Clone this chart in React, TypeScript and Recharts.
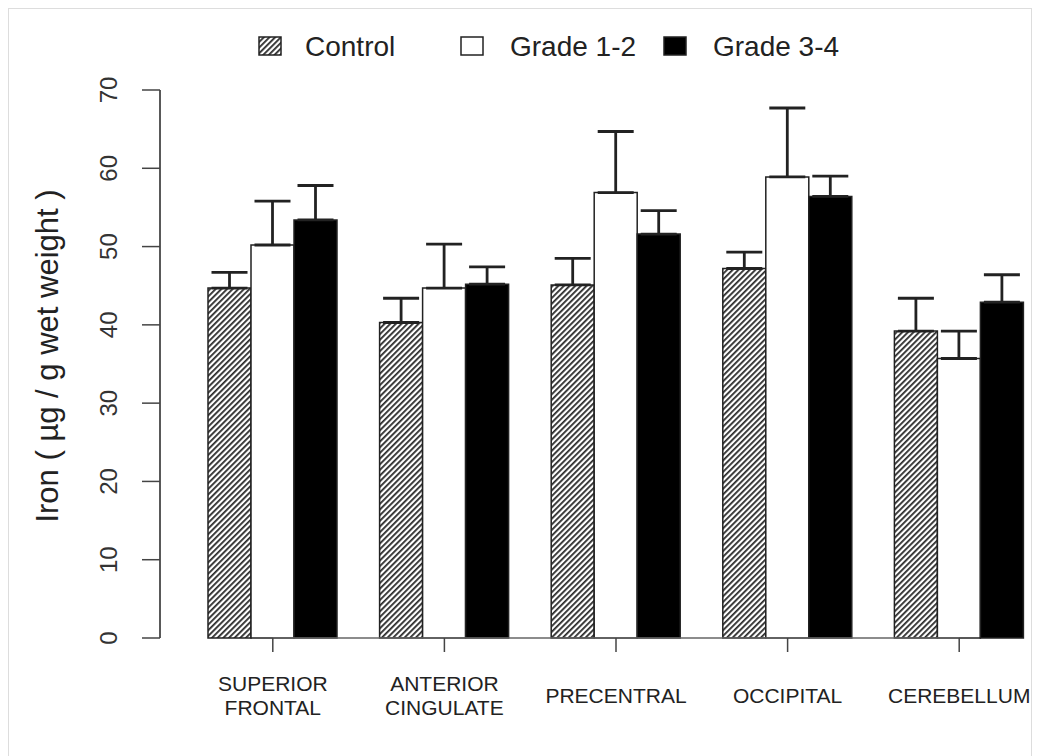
import React from 'react'
import {
    BarChart,
    Bar,
    XAxis,
    YAxis,
    ErrorBar,
    ReferenceLine,
    Legend,
} from 'recharts'

const REGIONS = ['SUPERIOR\nFRONTAL', 'ANTERIOR\nCINGULATE', 'PRECENTRAL', 'OCCIPITAL', 'CEREBELLUM']
const CONTROL = [44.7, 40.3, 45.1, 47.2, 39.2]
const CONTROL_SE = [2.0, 3.1, 3.4, 2.1, 4.2]
const GRADE_12 = [50.2, 44.7, 56.9, 58.9, 35.7]
const GRADE_12_SE = [5.6, 5.6, 7.8, 8.8, 3.5]
const GRADE_34 = [53.4, 45.2, 51.6, 56.4, 42.9]
const GRADE_34_SE = [4.4, 2.2, 3.0, 2.6, 3.5]
const Y_TICKS = [0, 10, 20, 30, 40, 50, 60, 70]
const LEGEND_LABELS = ['Control', 'Grade 1-2', 'Grade 3-4']

const data = REGIONS.map((name, i) => ({
    name,
    control: CONTROL[i],
    controlErr: [0, CONTROL_SE[i]],
    g12: GRADE_12[i],
    g12Err: [0, GRADE_12_SE[i]],
    g34: GRADE_34[i],
    g34Err: [0, GRADE_34_SE[i]],
}))

const FONT = '"Liberation Sans", Arial, sans-serif'
const FILLS = ['url(#hatch)', '#ffffff', '#000000']

function YTick({ x, y, payload }: any) {
    // baseline sits on the right, glyphs grow to the left
    const bx = x - 23
    return (
        <text
            x={bx}
            y={y}
            transform={`rotate(-90, ${bx}, ${y})`}
            textAnchor="middle"
            fontSize={24}
            fill="#333"
            fontFamily={FONT}
        >
            {payload.value}
        </text>
    )
}

function XTick({ x, y, payload }: any) {
    const lines = String(payload.value).split('\n')
    const start = lines.length === 1 ? 41 : 29
    return (
        <g>
            {lines.map((l, i) => (
                <text
                    key={i}
                    x={x}
                    y={y + start + i * 24}
                    textAnchor="middle"
                    dominantBaseline="central"
                    fontSize={21}
                    fill="#222"
                    fontFamily={FONT}
                >
                    {l}
                </text>
            ))}
        </g>
    )
}

function LegendBox() {
    const boxX = [259, 461, 664]
    const textX = [305, 510, 713]
    return (
        <svg width={1038} height={80}>
            {LEGEND_LABELS.map((label, i) => (
                <g key={label}>
                    <rect x={boxX[i]} y={37} width={22} height={18} fill={FILLS[i]} stroke="#222" strokeWidth={1.5} />
                    <text x={textX[i]} y={56} fontSize={28} fill="#222" fontFamily={FONT}>
                        {label}
                    </text>
                </g>
            ))}
        </svg>
    )
}

export default function App() {
    return (
        <div style={{ position: 'absolute', left: 0, top: 0, width: 1038, height: 756, overflow: 'hidden', background: '#fff' }}>
            <svg width={0} height={0} style={{ position: 'absolute' }}>
                <defs>
                    <pattern id="hatch" patternUnits="userSpaceOnUse" width={4} height={4} patternTransform="rotate(45)">
                        <rect width={4} height={4} fill="#fff" />
                        <line x1={0.9} y1={0} x2={0.9} y2={4} stroke="#2a2a2a" strokeWidth={1.8} />
                    </pattern>
                </defs>
            </svg>
            <div style={{ position: 'absolute', left: 8, top: 8, width: 1022, height: 770, border: '1px solid #ddd' }} />
            <div style={{ position: 'absolute', left: 0, top: 0 }}>
                <BarChart
                    width={1060}
                    height={756}
                    data={data}
                    margin={{ top: 90, right: 15, left: 0, bottom: 18 }}
                    barGap={0}
                    barSize={43}
                >
                    <Legend
                        layout="vertical"
                        align="center"
                        verticalAlign="middle"
                        wrapperStyle={{ left: 0, top: 0, width: 1038, height: 80 }}
                        content={() => <LegendBox />}
                    />
                    <YAxis
                        width={160}
                        domain={[0, 70]}
                        ticks={Y_TICKS}
                        interval={0}
                        tick={<YTick />}
                        tickSize={18}
                        tickLine={{ stroke: '#444', strokeWidth: 1.5 }}
                        axisLine={{ stroke: '#222', strokeWidth: 1.5 }}
                        label={{
                            content: ({ viewBox }: any) => {
                                const cx = 58
                                const cy = viewBox.y + viewBox.height / 2 - 8
                                return (
                                    <text
                                        x={cx}
                                        y={cy}
                                        transform={`rotate(-90, ${cx}, ${cy})`}
                                        textAnchor="middle"
                                        fontSize={31}
                                        fill="#222"
                                        fontFamily={FONT}
                                    >
                                        Iron ( µg / g wet weight )
                                    </text>
                                )
                            },
                        }}
                    />
                    <XAxis
                        dataKey="name"
                        height={100}
                        padding={{ left: 27, right: 0 }}
                        axisLine={false}
                        tickSize={14}
                        tickLine={{ stroke: '#444', strokeWidth: 1.5 }}
                        tick={<XTick />}
                        interval={0}
                    />
                    <ReferenceLine
                        segment={[{ x: REGIONS[0], y: 0 }, { x: REGIONS[REGIONS.length - 1], y: 0 }]}
                        stroke="#666"
                        strokeWidth={1.5}
                    />
                    <Bar dataKey="control" fill={FILLS[0]} stroke="#222" strokeWidth={1.5} isAnimationActive={false}>
                        <ErrorBar dataKey="controlErr" direction="y" width={18} stroke="#222" strokeWidth={2.8} />
                    </Bar>
                    <Bar dataKey="g12" fill={FILLS[1]} stroke="#222" strokeWidth={1.5} isAnimationActive={false}>
                        <ErrorBar dataKey="g12Err" direction="y" width={18} stroke="#222" strokeWidth={2.8} />
                    </Bar>
                    <Bar dataKey="g34" fill={FILLS[2]} stroke="#222" strokeWidth={1.5} isAnimationActive={false}>
                        <ErrorBar dataKey="g34Err" direction="y" width={18} stroke="#222" strokeWidth={2.8} />
                    </Bar>
                </BarChart>
            </div>
        </div>
    )
}
